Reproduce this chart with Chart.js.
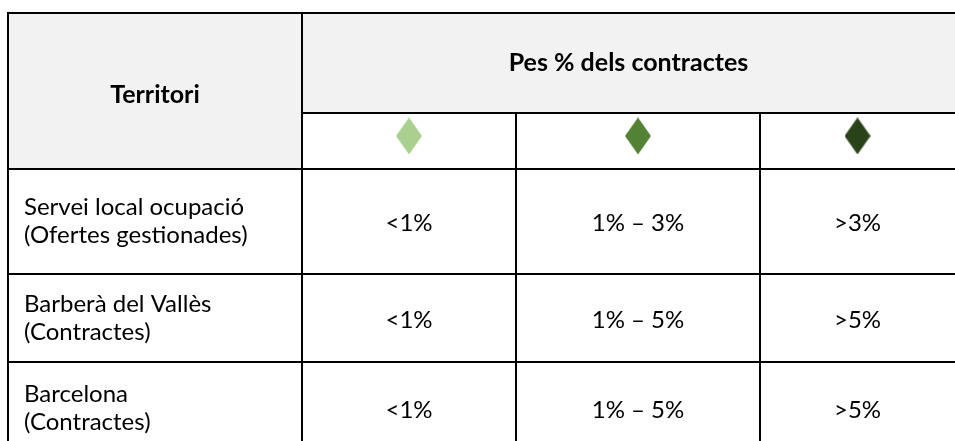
<!DOCTYPE html>
<html>
<head>
<meta charset="utf-8">
<script src="https://cdn.jsdelivr.net/npm/chart.js@4/dist/chart.umd.min.js"></script>
<style>
  html, body { margin: 0; padding: 0; background: #ffffff; }
  #wrap { width: 955px; height: 441px; position: relative; }
</style>
</head>
<body>
<div id="wrap"><canvas id="c" width="955" height="441"></canvas></div>
<script>
// ---------- DATA ----------
const headerTerritory = 'Territori';
const headerWeight = 'Pes % dels contractes';
const territories = [
  ['Servei local ocupació', '(Ofertes gestionades)'],
  ['Barberà del Vallès', '(Contractes)'],
  ['Barcelona', '(Contractes)']
];
const bandLow  = ['<1%', '<1%', '<1%'];
const bandMid  = ['1% \u2013 3%', '1% \u2013 5%', '1% \u2013 5%'];
const bandHigh = ['>3%', '>5%', '>5%'];
const markerColors = ['#A9D08E', '#548235', '#2A4219'];

// ---------- LAYOUT (table geometry in scale units) ----------
const colWidths  = [294, 214, 244, 195];
const rowHeights = [100, 56, 105, 88, 92];
const colEdges = [0]; colWidths.forEach(w => colEdges.push(colEdges[colEdges.length - 1] + w));
const rowEdges = [0]; rowHeights.forEach(h => rowEdges.push(rowEdges[rowEdges.length - 1] + h));
const X_MAX = 947, Y_MAX = 428;
const FONT = 'Lato, "Open Sans", sans-serif';
const FS = 24;
const FS_BOLD = 25;

const colMid = i => (colEdges[i] + colEdges[i + 1]) / 2;
const rowMid = i => (rowEdges[i] + rowEdges[i + 1]) / 2;
const lastX = colEdges[colEdges.length - 1];
const lastY = rowEdges[rowEdges.length - 1];

// border segments
const segs = [
  [[0, 0], [lastX, 0]],
  [[0, 0], [0, lastY]],
  [[colEdges[1], 0], [colEdges[1], lastY]],
  [[colEdges[2], rowEdges[1]], [colEdges[2], lastY]],
  [[colEdges[3], rowEdges[1]], [colEdges[3], lastY]],
  [[colEdges[1], rowEdges[1]], [lastX, rowEdges[1]]],
  [[0, rowEdges[2]], [lastX, rowEdges[2]]],
  [[0, rowEdges[3]], [lastX, rowEdges[3]]],
  [[0, rowEdges[4]], [lastX, rowEdges[4]]]
];

function diamond(color) {
  const w = 26, h = 37;
  const cv = document.createElement('canvas');
  cv.width = w; cv.height = h;
  const g = cv.getContext('2d');
  g.fillStyle = color;
  g.beginPath();
  g.moveTo(w / 2, 0); g.lineTo(w, h / 2); g.lineTo(w / 2, h); g.lineTo(0, h / 2);
  g.closePath(); g.fill();
  return cv;
}

const datasets = segs.map(s => ({
  type: 'line',
  data: s.map(p => ({ x: p[0], y: p[1] })),
  borderColor: '#000000',
  borderWidth: 2,
  borderCapStyle: 'square',
  pointRadius: 0,
  fill: false,
  clip: false,
  order: 2
}));

const markerY = rowEdges[1] + 0.41 * (rowEdges[2] - rowEdges[1]);
datasets.push({
  type: 'scatter',
  data: markerColors.map((c, i) => ({ x: colMid(i + 1), y: markerY })),
  pointStyle: markerColors.map(c => diamond(c)),
  pointRadius: 13,
  clip: false,
  order: 1
});

const tablePlugin = {
  id: 'tableCells',
  beforeDatasetsDraw(chart) {
    const { ctx, scales: { x, y } } = chart;
    ctx.save();
    ctx.fillStyle = '#F2F2F2';
    ctx.fillRect(x.getPixelForValue(0), y.getPixelForValue(0),
      x.getPixelForValue(colEdges[1]) - x.getPixelForValue(0),
      y.getPixelForValue(rowEdges[2]) - y.getPixelForValue(0));
    ctx.fillRect(x.getPixelForValue(colEdges[1]), y.getPixelForValue(0),
      x.getPixelForValue(lastX) - x.getPixelForValue(colEdges[1]),
      y.getPixelForValue(rowEdges[1]) - y.getPixelForValue(0));
    ctx.restore();
  },
  afterDatasetsDraw(chart) {
    const { ctx, scales: { x, y } } = chart;
    ctx.save();
    ctx.fillStyle = '#000000';
    ctx.textBaseline = 'middle';
    ctx.textAlign = 'center';
    ctx.font = 'bold ' + FS_BOLD + 'px ' + FONT;
    ctx.fillText(headerTerritory, x.getPixelForValue(colMid(0)), y.getPixelForValue((rowEdges[0] + rowEdges[2]) / 2) + 4);
    ctx.fillText(headerWeight, x.getPixelForValue((colEdges[1] + lastX) / 2), y.getPixelForValue(rowMid(0)));
    ctx.font = FS + 'px ' + FONT;
    const lineGap = 28;
    territories.forEach((lines, r) => {
      const cy = y.getPixelForValue(rowMid(r + 2));
      ctx.textAlign = 'left';
      lines.forEach((t, k) => {
        ctx.fillText(t, x.getPixelForValue(colEdges[0] + 16), cy + (k - (lines.length - 1) / 2) * lineGap);
      });
      ctx.textAlign = 'center';
      ctx.fillText(bandLow[r], x.getPixelForValue(colMid(1)), cy + 2);
      ctx.fillText(bandMid[r], x.getPixelForValue(colMid(2)), cy + 2);
      ctx.fillText(bandHigh[r], x.getPixelForValue(colMid(3)), cy + 2);
    });
    ctx.restore();
  }
};

new Chart(document.getElementById('c'), {
  type: 'scatter',
  data: { datasets },
  options: {
    responsive: false,
    animation: false,
    events: [],
    layout: { autoPadding: false, padding: { left: 8, top: 13, right: 0, bottom: 0 } },
    plugins: { legend: { display: false }, tooltip: { enabled: false } },
    scales: {
      x: { type: 'linear', display: false, min: 0, max: X_MAX },
      y: { type: 'linear', display: false, min: 0, max: Y_MAX, reverse: true }
    }
  },
  plugins: [tablePlugin]
});
</script>
</body>
</html>
